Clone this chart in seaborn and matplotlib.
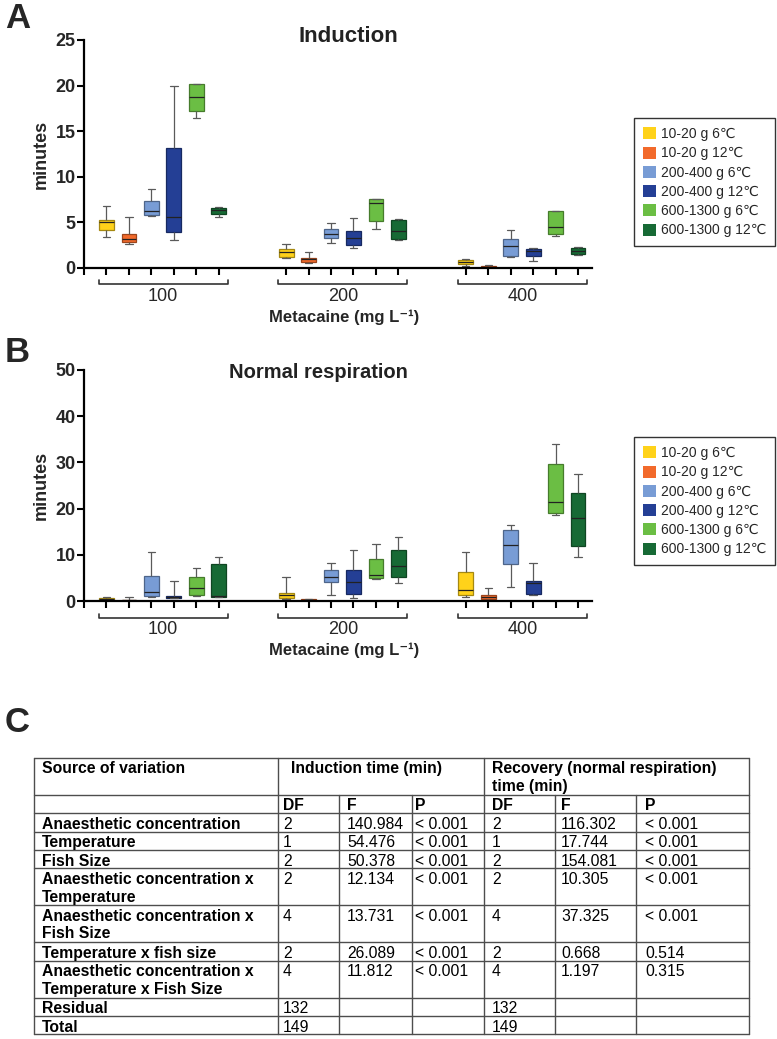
import pandas as pd
import seaborn as sns
import matplotlib.pyplot as plt
from matplotlib.patches import Patch
from matplotlib import font_manager, colors as mcolors

sns.set_theme(style="ticks")
plt.rcParams['font.family'] = ['Liberation Sans', 'DejaVu Sans']

# groups and colours
concentrations = ["100", "200", "400"]
groups = ["10-20 g 6℃", "10-20 g 12℃", "200-400 g 6℃",
          "200-400 g 12℃", "600-1300 g 6℃", "600-1300 g 12℃"]
group_colors = ["#FFD21A", "#F26A2B", "#789CD5", "#243F95", "#6BBE44", "#176A35"]

# five-number summaries per box: min, q1, median, q3, max (minutes)
induction_100 = [[3.4, 4.2, 5.0, 5.3, 6.8], [2.6, 2.8, 3.2, 3.7, 5.6],
                 [5.7, 5.8, 6.3, 7.4, 8.7], [3.1, 4.0, 5.6, 13.2, 20.0],
                 [16.4, 17.2, 18.7, 20.2, 20.2], [5.6, 5.9, 6.4, 6.6, 6.7]]
induction_200 = [[1.1, 1.2, 1.75, 2.05, 2.65], [0.6, 0.66, 0.95, 1.13, 1.72],
                 [2.7, 3.3, 3.76, 4.3, 4.96], [2.2, 2.5, 3.3, 4.05, 5.5],
                 [4.3, 5.1, 7.1, 7.6, 7.6], [3.1, 3.2, 4.1, 5.3, 5.4]]
induction_400 = [[0.26, 0.47, 0.62, 0.84, 1.02], [0.02, 0.05, 0.1, 0.22, 0.36],
                 [1.17, 1.31, 2.45, 3.21, 4.12], [0.73, 1.31, 1.82, 2.12, 2.15],
                 [3.47, 3.72, 4.53, 6.2, 6.3], [1.46, 1.57, 1.9, 2.15, 2.3]]
respiration_100 = [[0.1, 0.15, 0.4, 0.65, 0.8], [0.05, 0.07, 0.15, 0.3, 0.94],
                   [0.94, 1.16, 2.0, 5.5, 10.6], [0.6, 0.73, 0.87, 1.09, 4.43],
                   [1.09, 1.38, 2.9, 5.3, 7.04], [0.9, 0.94, 1.0, 8.0, 9.44]]
respiration_200 = [[0.5, 0.7, 1.2, 1.7, 5.3], [0.1, 0.2, 0.3, 0.4, 0.5],
                   [1.38, 4.07, 5.23, 6.61, 8.13], [0.73, 1.52, 4.07, 6.61, 10.96],
                   [4.86, 4.94, 5.73, 9.0, 12.27], [3.85, 5.23, 7.55, 11.03, 13.79]]
respiration_400 = [[0.94, 1.31, 2.32, 6.24, 10.53], [0.29, 0.44, 0.94, 1.38, 2.83],
                   [3.05, 8.06, 12.12, 15.32, 16.4], [1.38, 1.52, 3.99, 4.36, 8.13],
                   [18.66, 19.02, 21.49, 29.69, 34.05], [9.44, 11.83, 18.0, 23.38, 27.51]]

# ANOVA table
sources = ["Anaesthetic concentration", "Temperature", "Fish Size",
           "Anaesthetic concentration x\nTemperature",
           "Anaesthetic concentration x\nFish Size",
           "Temperature x fish size",
           "Anaesthetic concentration x\nTemperature x Fish Size",
           "Residual", "Total"]
ind_df = ["2", "1", "2", "2", "4", "2", "4", "132", "149"]
ind_f = ["140.984", "54.476", "50.378", "12.134", "13.731", "26.089", "11.812", "", ""]
ind_p = ["< 0.001"] * 7 + ["", ""]
rec_df = ["2", "1", "2", "2", "4", "2", "4", "132", "149"]
rec_f = ["116.302", "17.744", "154.081", "10.305", "37.325", "0.668", "1.197", "", ""]
rec_p = ["< 0.001"] * 5 + ["0.514", "0.315", "", ""]

W, H = 777, 1039
fig = plt.figure(figsize=(W / 100, H / 100), dpi=100)
palette = dict(zip(groups, group_colors))


def darker(c, f=0.65):
    r, g, b, _ = mcolors.to_rgba(c)
    return (r * f, g * f, b * f)


def draw_panel(ax, stats, ymax, ystep):
    rows = []
    for ci, conc_stats in enumerate(stats):
        for gi, five in enumerate(conc_stats):
            for v in five:
                rows.append({"pos": ci * 8 + gi, "group": groups[gi], "minutes": v})
    df = pd.DataFrame(rows)
    sns.boxplot(data=df, x="pos", y="minutes", hue="group", hue_order=groups,
                palette=palette, native_scale=True, dodge=False, orient="x",
                width=0.66, whis=(0, 100), saturation=1, linecolor="#5a5a5a",
                linewidth=0.9, legend=False, medianprops=dict(color="#222222"),
                ax=ax)
    for p in ax.patches:
        p.set_edgecolor(darker(p.get_facecolor()))

    positions = sorted(df["pos"].unique())
    ax.set_xlim(-1, 21.62)
    ax.set_ylim(0, ymax)
    ax.set_xticks([-1] + list(positions))
    ax.set_xticklabels([])
    ax.set_yticks(range(0, ymax + 1, ystep))
    ax.set_xlabel("")
    ax.set_ylabel("minutes", fontsize=13, fontweight="bold", labelpad=4)
    for lab in ax.get_yticklabels():
        lab.set_fontweight("bold")
    ax.tick_params(axis="both", length=5, width=1.5, color="black", labelsize=13, pad=1)
    sns.despine(ax=ax)
    for s in ["left", "bottom"]:
        ax.spines[s].set_linewidth(1.6)
        ax.spines[s].set_color("black")

    # brackets under concentration groups
    h = ax.bbox.height
    trans = ax.get_xaxis_transform()
    yb = -16.5 / h
    up = 4 / h
    for ci, conc in enumerate(concentrations):
        x0, x1 = ci * 8 - 0.35, ci * 8 + 5.4
        ax.plot([x0, x0, x1, x1], [yb + up, yb, yb, yb + up], transform=trans,
                color="#333333", lw=1.2, clip_on=False)
        ax.text((x0 + x1) / 2, yb - 12.5 / h, conc, transform=trans, ha="center",
                va="center", fontsize=13)
    ax.text(10.6, yb - 33 / h, "Metacaine (mg L⁻¹)", transform=trans, ha="center",
            va="center", fontsize=12, fontweight="bold")


axA = fig.add_axes([84 / W, 1 - 268 / H, 508 / W, 228 / H])
draw_panel(axA, [induction_100, induction_200, induction_400], 25, 5)
axB = fig.add_axes([84 / W, 1 - 601 / H, 508 / W, 231 / H])
draw_panel(axB, [respiration_100, respiration_200, respiration_400], 50, 10)

fig.text(348 / W, 1 - 36 / H, "Induction", ha="center", va="center",
         fontsize=16, fontweight="bold", color="#222222")
fig.text(318 / W, 1 - 372 / H, "Normal respiration", ha="center", va="center",
         fontsize=14.5, fontweight="bold", color="#222222")

handles = [Patch(facecolor=c, edgecolor="none") for c in group_colors]
for top in (118, 437):
    leg = fig.legend(handles, groups, loc="upper left",
                     bbox_to_anchor=(634 / W, 1 - top / H), frameon=True,
                     fancybox=False, edgecolor="#333333", framealpha=1,
                     fontsize=10, handlelength=0.95, handleheight=0.95,
                     handletextpad=0.35, labelspacing=0.38, borderpad=0.65,
                     borderaxespad=0)
    leg.get_frame().set_linewidth(1)

# panel letters
fig.text(5 / W, 1 - 2 / H, "A", ha="left", va="top", fontsize=25, fontweight="bold")
fig.text(5 / W, 1 - 336 / H, "B", ha="left", va="top", fontsize=25, fontweight="bold")

# table (pixel coordinates)
names = {f.name for f in font_manager.fontManager.ttflist}
if "Liberation Sans Narrow" in names:
    tfam, tsize = ["Liberation Sans Narrow", "DejaVu Sans"], 12.5
else:
    tfam, tsize = ["Liberation Sans", "DejaVu Sans"], 11.3

axT = fig.add_axes([0, 0, 1, 1])
axT.set_xlim(0, W)
axT.set_ylim(H, 0)
axT.axis("off")
axT.text(5, 706, "C", ha="left", va="top", fontsize=25, fontweight="bold", family=tfam)

col_x = [34, 278, 339, 412, 484, 555, 636, 748.5]
text_x = [42, 283, 347, 415, 492, 561, 645]
rh = 18.45
top = 757.7
line_col = "#4d4d4d"

nlines = [s.count("\n") + 1 for s in sources]
row_tops = [top, top + 2 * rh]
y = top + 3 * rh
for n in nlines:
    row_tops.append(y)
    y += n * rh
bottom = y

for yy in row_tops + [bottom]:
    axT.plot([col_x[0], col_x[-1]], [yy, yy], color=line_col, lw=1)
for i, xx in enumerate(col_x):
    y0 = top if i in (0, 1, 4, 7) else top + 2 * rh
    axT.plot([xx, xx], [y0, bottom], color=line_col, lw=1)


def cell(x, ytop, s, bold=False):
    for i, line in enumerate(s.split("\n")):
        axT.text(x, ytop + 9.7 + i * 17.4, line, ha="left", va="center_baseline",
                 fontsize=tsize, family=tfam, fontweight="bold" if bold else "normal",
                 color="black")


cell(text_x[0], top, "Source of variation", bold=True)
cell(291, top, "Induction time (min)", bold=True)
cell(text_x[4], top, "Recovery (normal respiration)\ntime (min)", bold=True)
for x, s in zip(text_x[1:], ["DF", "F", "P", "DF", "F", "P"]):
    cell(x, top + 2 * rh, s, bold=True)
for r, src in enumerate(sources):
    yt = row_tops[r + 2]
    cell(text_x[0], yt, src, bold=True)
    for x, col in zip(text_x[1:], [ind_df, ind_f, ind_p, rec_df, rec_f, rec_p]):
        cell(x, yt, col[r])

fig.savefig("out.png", dpi=100)
